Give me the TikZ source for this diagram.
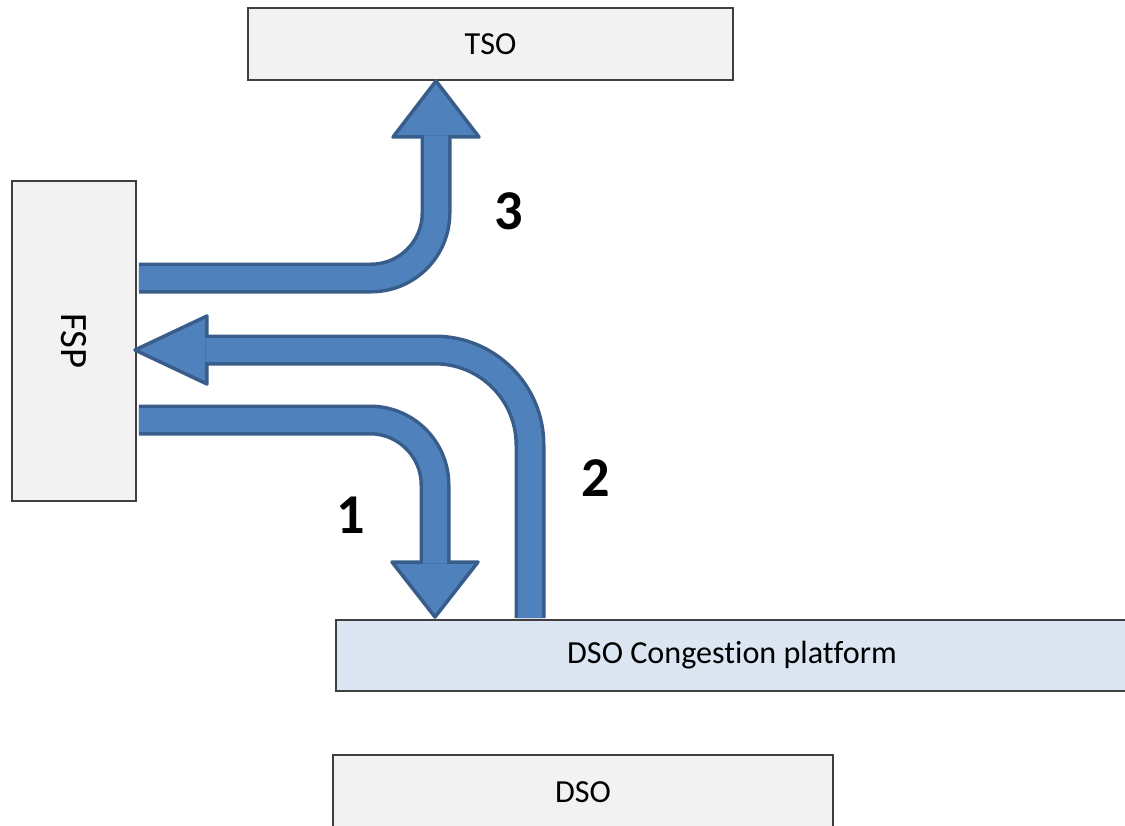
\documentclass[tikz,border=0pt]{standalone}
\usepackage{fontspec}
\setmainfont{Carlito}[Ligatures=NoCommon]
\usetikzlibrary{calc}

\definecolor{arrowfill}{HTML}{4F81BD}
\definecolor{arrowline}{HTML}{385D8A}
\definecolor{boxgray}{HTML}{F2F2F2}
\definecolor{boxblue}{HTML}{DCE6F2}
\definecolor{boxline}{HTML}{3F3F3F}

\begin{document}
\begin{tikzpicture}[x=0.02cm,y=-0.02cm,
                    box/.style={draw=boxline,line width=0.04cm,fill=boxgray,
                                inner sep=0pt,font=\fontsize{18.3}{20}\selectfont},
                    shaft/.style={draw=arrowline,line width=0.07cm,double=arrowfill,
                                  double distance=0.48cm,rounded corners=#1},
                    shaft/.default=1.3cm,
                    head/.style={draw=arrowline,fill=arrowfill,line width=0.07cm,
                                 line join=round},
                    num/.style={font=\fontsize{32}{36}\selectfont\bfseries}]
  \useasboundingbox (0,0) rectangle (1125,825);
  \clip (0,0) rectangle (1125,825);

  \node[box,minimum width=9.7cm,minimum height=1.44cm]  (tso)  at (490.5,44)  {TSO};
  \node[box,minimum width=2.48cm,minimum height=6.4cm,
        font=\fontsize{22}{24}\selectfont]              (fsp)  at (74,341)    {\rotatebox{-90}{FSP}};
  \node[box,fill=boxblue,minimum width=15.84cm,
        minimum height=1.42cm]                          (plat) at (732,655.5) {DSO Congestion platform};
  \node[box,minimum width=10cm,minimum height=1.48cm]   (dso)  at (583,792)   {DSO};

  \draw[head]  ($(tso.south)+(-54.5,0)$) -- ++(43,56) -- ++(-86,0) -- cycle;
  \draw[shaft] ($(fsp.east)+(2,-63)$) -| ($(tso.south)+(-54.5,54.5)$);

  \draw[head]  ($(fsp.east)+(-2,9)$) -- ++(72,-34) -- ++(0,68) -- cycle;
  \draw[shaft=1.9cm] ($(plat.north)+(-202,-1)$) |- ($(fsp.east)+(68.5,9)$);

  \draw[head]  ($(plat.north)+(-297,-2)$) -- ++(43,-55) -- ++(-86,0) -- cycle;
  \draw[shaft] ($(fsp.east)+(2,79)$) -| ($(plat.north)+(-297,-55.5)$);

  \node[num] (n3) at (509,211) {3};
  \node[num] (n2) at (596,478) {2};
  \node[num] (n1) at (351,515) {1};
\end{tikzpicture}
\end{document}
